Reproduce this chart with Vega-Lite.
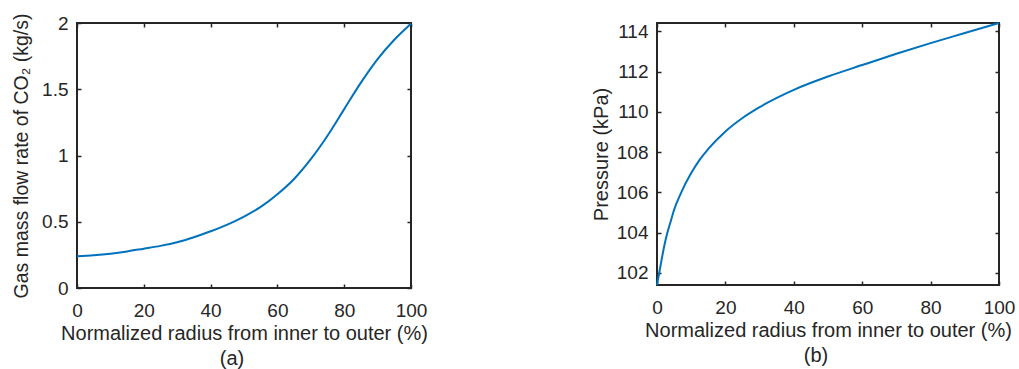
{
  "$schema": "https://vega.github.io/schema/vega-lite/v6.json",
  "background": "white",
  "padding": {"left": 10, "top": 12, "right": 5, "bottom": 5},
  "bounds": "flush",
  "spacing": 246,
  "datasets": {
    "flow": [
      {"r": 0, "m": 0.239},
      {"r": 5, "m": 0.247},
      {"r": 10, "m": 0.259},
      {"r": 15, "m": 0.276},
      {"r": 20, "m": 0.297},
      {"r": 25, "m": 0.318},
      {"r": 30, "m": 0.345},
      {"r": 35, "m": 0.383},
      {"r": 40, "m": 0.428},
      {"r": 45, "m": 0.478},
      {"r": 50, "m": 0.539},
      {"r": 55, "m": 0.612},
      {"r": 60, "m": 0.708},
      {"r": 65, "m": 0.823},
      {"r": 70, "m": 0.972},
      {"r": 75, "m": 1.149},
      {"r": 80, "m": 1.35},
      {"r": 85, "m": 1.55},
      {"r": 90, "m": 1.728},
      {"r": 95, "m": 1.874},
      {"r": 100, "m": 1.995}
    ],
    "pressure": [
      {"r": 0, "p": 101.4},
      {"r": 1, "p": 102.33},
      {"r": 2, "p": 103.24},
      {"r": 3, "p": 103.98},
      {"r": 4, "p": 104.56},
      {"r": 5, "p": 105.14},
      {"r": 7, "p": 105.97},
      {"r": 10, "p": 106.96},
      {"r": 12.5, "p": 107.63},
      {"r": 15, "p": 108.16},
      {"r": 20, "p": 109.03},
      {"r": 25, "p": 109.7},
      {"r": 30, "p": 110.24},
      {"r": 40, "p": 111.1},
      {"r": 50, "p": 111.76},
      {"r": 60, "p": 112.33},
      {"r": 70, "p": 112.89},
      {"r": 80, "p": 113.42},
      {"r": 90, "p": 113.92},
      {"r": 100, "p": 114.42}
    ]
  },
  "config": {
    "font": "Liberation Sans",
    "view": {"stroke": "#262626", "strokeWidth": 2},
    "axis": {
      "domain": false,
      "grid": false,
      "ticks": true,
      "tickSize": -4,
      "tickColor": "#262626",
      "tickWidth": 1.5,
      "labelFont": "Liberation Sans",
      "labelFontSize": 19,
      "labelColor": "#262626",
      "labelPadding": 13,
      "labelFlush": false,
      "labelOverlap": false,
      "titleFont": "Liberation Sans",
      "titleFontSize": 20,
      "titleFontWeight": "normal",
      "titleColor": "#262626"
    },
    "axisBottom": {"labelPadding": 17},
    "title": {"font": "Liberation Sans", "fontSize": 20, "fontWeight": "normal", "color": "#262626"}
  },
  "hconcat": [
    {
      "width": 334,
      "height": 265,
      "title": {"text": "(a)", "orient": "bottom", "dx": -12, "offset": 6},
      "data": {"name": "flow"},
      "layer": [
        {
          "mark": {"type": "line", "color": "#0072BD", "strokeWidth": 2, "interpolate": "monotone"},
          "encoding": {
            "x": {"field": "r", "type": "quantitative", "scale": {"domain": [0, 100], "nice": false},
              "axis": {"orient": "bottom", "values": [0, 20, 40, 60, 80, 100], "title": "Normalized radius from inner to outer (%)", "titlePadding": 3}},
            "y": {"field": "m", "type": "quantitative", "scale": {"domain": [0, 2], "nice": false},
              "axis": {"orient": "left", "values": [0, 0.5, 1, 1.5, 2], "labelExpr": "format(datum.value, '~g')", "title": "Gas mass flow rate of CO₂ (kg/s)", "titleFontSize": 19.5, "titlePadding": 10}}
          }
        },
        {
          "mark": {"type": "line", "opacity": 0},
          "encoding": {
            "x": {"field": "r", "type": "quantitative", "axis": {"orient": "top", "values": [0, 20, 40, 60, 80, 100], "labels": false, "title": null}},
            "y": {"field": "m", "type": "quantitative", "axis": {"orient": "right", "values": [0, 0.5, 1, 1.5, 2], "labels": false, "title": null}}
          }
        }
      ],
      "resolve": {"axis": {"x": "independent", "y": "independent"}}
    },
    {
      "width": 342,
      "height": 262,
      "title": {"text": "(b)", "orient": "bottom", "dx": -12, "offset": 6},
      "data": {"name": "pressure"},
      "layer": [
        {
          "mark": {"type": "line", "color": "#0072BD", "strokeWidth": 2, "interpolate": "monotone"},
          "encoding": {
            "x": {"field": "r", "type": "quantitative", "scale": {"domain": [0, 100], "nice": false},
              "axis": {"orient": "bottom", "values": [0, 20, 40, 60, 80, 100], "title": "Normalized radius from inner to outer (%)", "titlePadding": 3}},
            "y": {"field": "p", "type": "quantitative", "scale": {"domain": [101.4, 114.42], "nice": false, "zero": false},
              "axis": {"orient": "left", "values": [102, 104, 106, 108, 110, 112, 114], "title": "Pressure (kPa)", "titlePadding": 5}}
          }
        },
        {
          "mark": {"type": "line", "opacity": 0},
          "encoding": {
            "x": {"field": "r", "type": "quantitative", "axis": {"orient": "top", "values": [0, 20, 40, 60, 80, 100], "labels": false, "title": null}},
            "y": {"field": "p", "type": "quantitative", "axis": {"orient": "right", "values": [102, 104, 106, 108, 110, 112, 114], "labels": false, "title": null}}
          }
        }
      ],
      "resolve": {"axis": {"x": "independent", "y": "independent"}}
    }
  ]
}
